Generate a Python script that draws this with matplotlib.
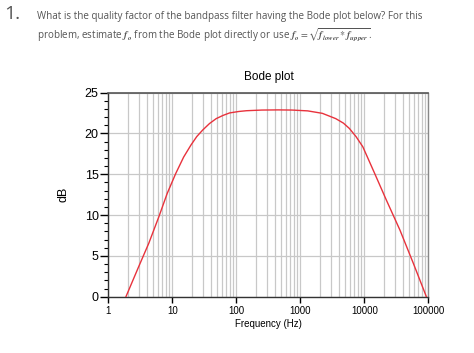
import matplotlib
matplotlib.use("Agg")
import matplotlib.pyplot as plt
from matplotlib.ticker import LogLocator, FixedLocator, MultipleLocator, NullFormatter

freq_hz = [1.88, 2.97, 4.27, 6.15, 8.3, 11.3, 15, 19.5, 24, 29.7, 38, 48.3, 62, 78.4,
           110, 144, 250, 450, 740, 1300, 2200, 3570, 4700, 5820, 7400, 9440, 14450, 22000,
           35900, 58200, 93000]
gain_db = [0, 3.67, 6.53, 9.8, 12.65, 15.1, 17.1, 18.57, 19.6, 20.4, 21.2, 21.8, 22.2, 22.5,
           22.68, 22.77, 22.85, 22.87, 22.85, 22.75, 22.45, 21.8, 21.25, 20.6, 19.6, 18.36,
           15.1, 11.84, 8.16, 4.08, 0]
x_ticks = [1, 10, 100, 1000, 10000, 100000]
x_labels = ["1", "10", "100", "1000", "10000", "100000"]
y_ticks = [0, 5, 10, 15, 20, 25]

fig = plt.figure(figsize=(4.74, 3.53), dpi=100)
plt.rcParams['font.family'] = ['Liberation Sans', 'DejaVu Sans']
plt.rcParams['mathtext.fontset'] = 'stix'

# header text
fig.text(4/474, 1-14/353, "1.", fontsize=14, color="#555555", family="Open Sans", va="center")
fig.text(37/474, 1-16/353,
         "What is the quality factor of the bandpass filter having the Bode plot below? For this",
         fontsize=7.1, color="#555555", family="Open Sans", va="center")
fig.text(37/474, 1-35/353,
         r"problem, estimate $\mathbfit{f_o}$ from the Bode plot directly or use $\mathbfit{f_o} = \sqrt{\mathbfit{f_{lower}} * \mathbfit{f_{upper}}}$.",
         fontsize=7.1, color="#555555", family="Open Sans", va="center")

ax = fig.add_axes([108.4/474, 1-296.7/353, 320/474, 204.2/353])
ax.plot(freq_hz, gain_db, color="#e8323c", lw=1.0, zorder=3)
ax.set_xscale("log")
ax.set_xlim(1, 100000)
ax.set_ylim(0, 25)

ax.xaxis.set_major_locator(FixedLocator(x_ticks))
ax.set_xticklabels(x_labels)
ax.xaxis.set_minor_locator(LogLocator(base=10, subs=range(2, 10), numticks=20))
ax.xaxis.set_minor_formatter(NullFormatter())
ax.yaxis.set_major_locator(FixedLocator(y_ticks))
ax.yaxis.set_minor_locator(MultipleLocator(1))

ax.grid(True, which="major", color="#c8c8c8", lw=0.9)
ax.grid(True, which="minor", axis="x", color="#c8c8c8", lw=0.9)
ax.set_axisbelow(True)

ax.tick_params(axis="x", which="major", length=4, width=1, labelsize=7, pad=3)
ax.tick_params(axis="x", which="minor", length=0)
ax.tick_params(axis="y", which="major", length=6, width=1, labelsize=9, pad=1)
ax.tick_params(axis="y", which="minor", length=3, width=0.8)

for s in ["left", "bottom"]:
    ax.spines[s].set_color("#333333")
    ax.spines[s].set_linewidth(1.0)
ax.spines["top"].set_color("#555555")
ax.spines["top"].set_linewidth(1.2)
ax.spines["right"].set_color("#888888")
ax.spines["right"].set_linewidth(1.0)

ax.set_title("Bode plot", fontsize=8.5, pad=9)
ax.set_xlabel("Frequency (Hz)", fontsize=7, labelpad=2)
ax.set_ylabel("dB", fontsize=9, labelpad=11)

fig.savefig("out.png", dpi=100)
